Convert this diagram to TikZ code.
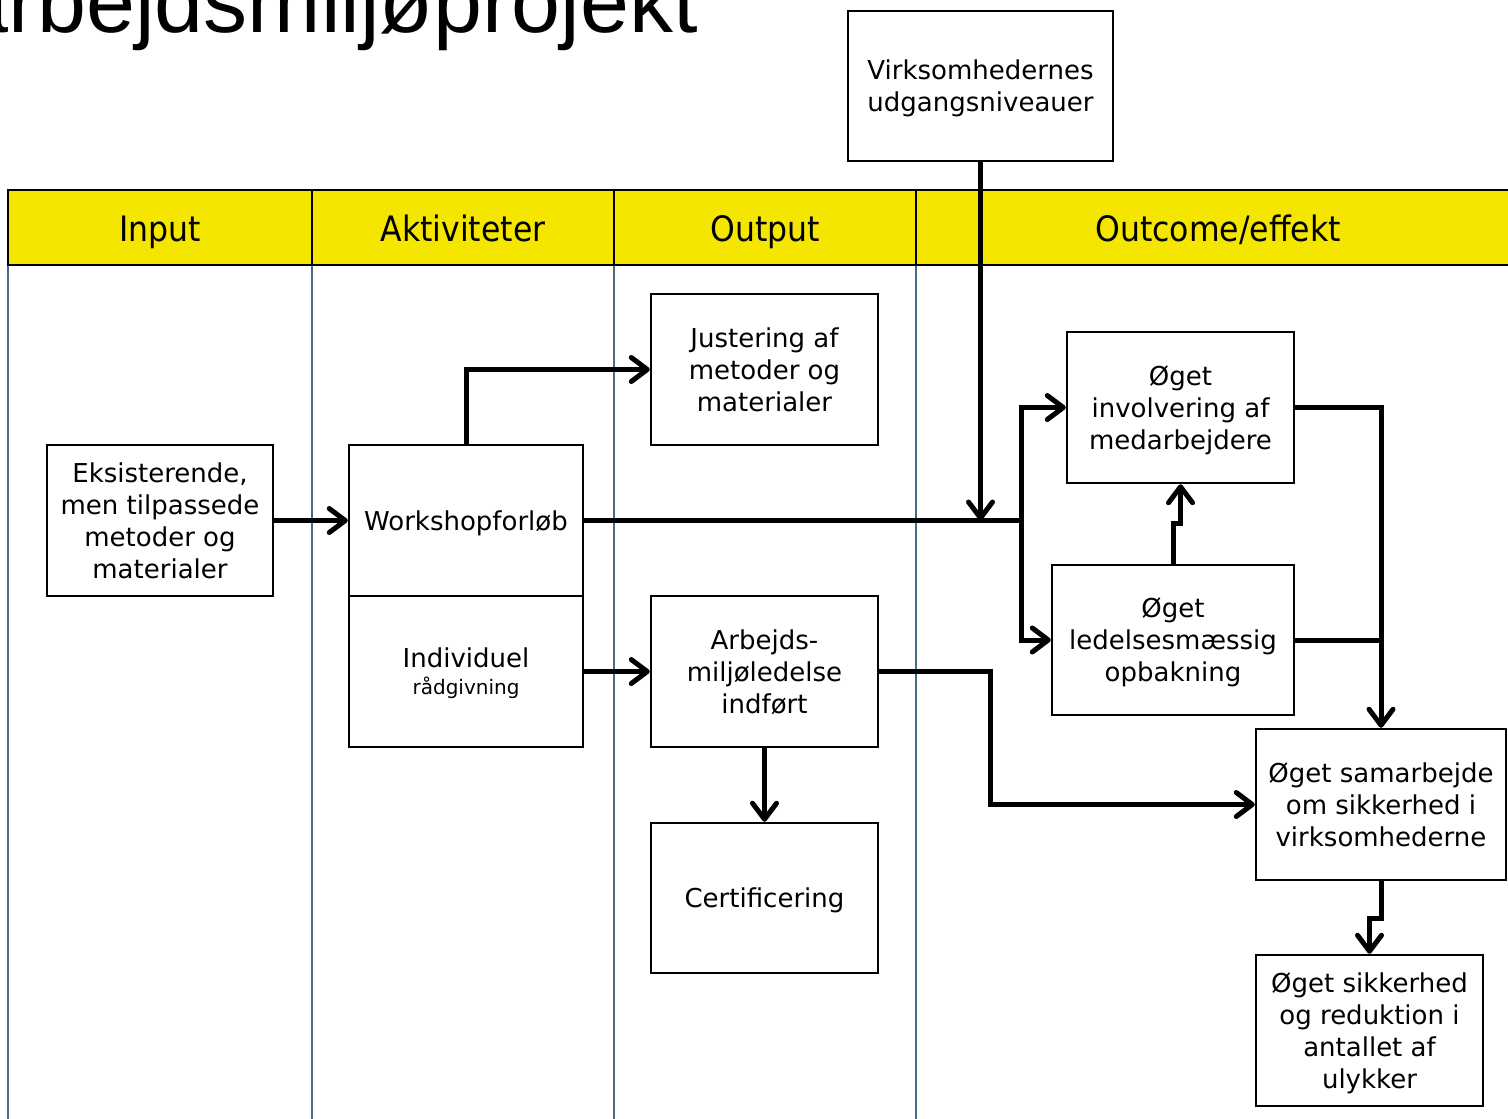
\documentclass[tikz,border=0pt]{standalone}
\usepackage{fontspec}
\setmainfont{DejaVu Sans}
\newfontfamily\titlefont{Liberation Sans}
\newfontfamily\headfont{DejaVu Sans Condensed}
\usetikzlibrary{arrows.meta}
\definecolor{hdr}{RGB}{245,230,0}
\definecolor{colline}{RGB}{70,110,130}
\begin{document}
\begin{tikzpicture}[x=1pt,y=-1pt,
  box/.style={draw=black, line width=2.5pt, inner sep=0pt, align=center, text depth=0pt,
    font=\fontsize{26}{32}\selectfont},
  hdrtext/.style={font=\headfont\fontsize{35}{40}\selectfont, anchor=base, inner sep=0pt},
  conn/.style={line width=5pt, line join=miter},
  arr/.style={conn, -{Straight Barb[length=16pt,width=24pt,round]}},
  colsep/.style={colline, line width=1.5pt}]
\useasboundingbox (0,0) rectangle (1508,1119);
\clip (0,0) rectangle (1508,1119);
% title
\node[anchor=base west, font=\titlefont\fontsize{88}{100}\selectfont, inner sep=0pt] (title) at (-41,32) {arbejdsmiljøprojekt};
% column lines
\draw[colsep] (8,265) -- (8,1125);
\draw[colsep] (312,265) -- (312,1125);
\draw[colsep] (614,265) -- (614,1125);
\draw[colsep] (916,265) -- (916,1125);
% header
\draw[fill=hdr, line width=1.8pt] (8,190) rectangle (1520,265);
\draw[line width=1.8pt] (312,190) -- (312,265);
\draw[line width=1.8pt] (614,190) -- (614,265);
\draw[line width=1.8pt] (916,190) -- (916,265);
\node[hdrtext] (h1) at (160,241) {Input};
\node[hdrtext] (h2) at (463,241) {Aktiviteter};
\node[hdrtext] (h3) at (765,241) {Output};
\node[hdrtext] (h4) at (1218,241) {Outcome/effekt};
% boxes
\node[box, minimum width=265pt, minimum height=150pt] (virk) at (980.5,86) {Virksomhedernes\\udgangsniveauer};
\node[box, minimum width=226pt, minimum height=151pt] (eks) at (160,520.5) {Eksisterende,\\men tilpassede\\metoder og\\materialer};
\node[box, minimum width=234pt, minimum height=151pt] (work) at (466,520.5) {Workshopforløb};
\node[box, minimum width=234pt, minimum height=151pt] (indiv) at (466,671.5) {Individuel\\[-5pt]{\fontsize{20}{24}\selectfont rådgivning}};
\node[box, minimum width=227pt, minimum height=151pt] (just) at (764.5,369.5) {Justering af\\metoder og\\materialer};
\node[box, minimum width=227pt, minimum height=151pt] (arb) at (764.5,671.5) {Arbejds-\\miljøledelse\\indført};
\node[box, minimum width=227pt, minimum height=150pt] (cert) at (764.5,898) {Certificering};
\node[box, minimum width=227pt, minimum height=151pt] (inv) at (1180.5,407.5) {Øget\\involvering af\\medarbejdere};
\node[box, minimum width=242pt, minimum height=150pt] (led) at (1173,640) {Øget\\ledelsesmæssig\\opbakning};
\node[box, minimum width=250pt, minimum height=151pt] (sam) at (1381,804.5) {Øget samarbejde\\om sikkerhed i\\virksomhederne};
\node[box, minimum width=227pt, minimum height=151pt] (sik) at (1369.5,1030.5) {Øget sikkerhed\\og reduktion i\\antallet af\\ulykker};
% connectors
\coordinate (j1) at (1021,520.5);
\draw[arr] (eks.east) -- (work.west);
\draw[arr] (work.north) |- (just.west);
\draw[conn] (work.east) -- (j1);
\draw[arr] (j1) |- (inv.west);
\draw[arr] (j1) |- (led.west);
\draw[arr] (virk.south) -- (virk.south |- work.east);
\draw[arr] (indiv.east) -- (arb.west);
\draw[arr] (arb.east) -- ++(111,0) |- (sam.west);
\draw[arr] (arb.south) -- (cert.north);
\draw[arr] (led.north) -- ++(0,-40) -| (inv.south);
\draw[arr] (inv.east) -| (sam.north);
\draw[conn] (led.east) -- (sam.north |- led.east);
\draw[arr] (sam.south) -- ++(0,37) -| (sik.north);
\end{tikzpicture}
\end{document}
